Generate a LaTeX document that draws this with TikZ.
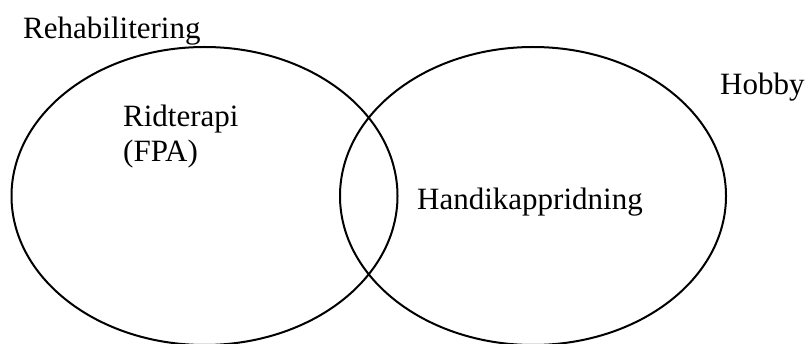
\documentclass[tikz,border=0pt]{standalone}
\usepackage{fontspec}
\setmainfont{Liberation Serif}
\begin{document}
\begin{tikzpicture}[x=1pt,y=-1pt,
  setring/.style={draw=black,line width=2pt},
  lbl/.style={anchor=base west,inner sep=0pt,font=\fontsize{31}{35}\selectfont,align=left}]
\useasboundingbox (0,0) rectangle (808,344);
\draw[setring] (204.5,196) ellipse [x radius=193,y radius=149];
\draw[setring] (533,196) ellipse [x radius=193,y radius=149];
\node[lbl] (rehab) at (23,38.5) {Rehabilitering};
\node[lbl] (hobby) at (720,95) {Hobby};
\node[lbl] (rid) at (123,162) {Ridterapi\\(FPA)};
\node[lbl] (handi) at (417,210) {Handikappridning};
\end{tikzpicture}
\end{document}
